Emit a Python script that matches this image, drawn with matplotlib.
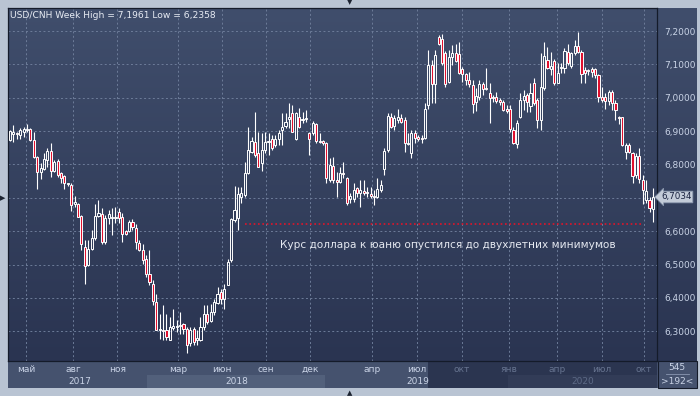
import numpy as np
import matplotlib
matplotlib.use("Agg")
import matplotlib.pyplot as plt
from matplotlib.colors import LinearSegmentedColormap
from matplotlib.patches import Rectangle

# weekly USD/CNH candles (open, high, low, close), oldest first
opens = [6.873, 6.890, 6.893, 6.888, 6.898, 6.903, 6.905, 6.873, 6.823, 6.778,
         6.785, 6.813, 6.840, 6.781, 6.810, 6.773, 6.765, 6.740, 6.738, 6.681,
         6.681, 6.645, 6.553, 6.498, 6.548, 6.581, 6.646, 6.650, 6.568, 6.638,
         6.638, 6.640, 6.658, 6.643, 6.600, 6.601, 6.627, 6.610, 6.565, 6.543,
         6.518, 6.471, 6.443, 6.388, 6.303, 6.305, 6.303, 6.275, 6.311, 6.313,
         6.315, 6.323, 6.308, 6.265, 6.308, 6.275, 6.275, 6.313, 6.353, 6.331,
         6.357, 6.385, 6.418, 6.398, 6.440, 6.513, 6.633, 6.640, 6.703, 6.708,
         6.775, 6.838, 6.868, 6.833, 6.805, 6.843, 6.866, 6.875, 6.858, 6.875,
         6.903, 6.916, 6.935, 6.953, 6.875, 6.941, 6.933, 6.935, 6.895, 6.893,
         6.920, 6.871, 6.870, 6.865, 6.753, 6.795, 6.753, 6.748, 6.773, 6.760,
         6.695, 6.695, 6.728, 6.713, 6.720, 6.715, 6.710, 6.705, 6.703, 6.723,
         6.785, 6.843, 6.943, 6.915, 6.933, 6.938, 6.933, 6.860, 6.833, 6.895,
         6.883, 6.878, 6.878, 6.978, 7.098, 7.041, 7.183, 7.175, 7.133, 7.048,
         7.121, 7.135, 7.131, 7.085, 7.071, 7.053, 7.038, 6.988, 7.001, 7.041,
         7.028, 7.013, 7.003, 7.001, 6.993, 6.988, 6.965, 6.965, 6.903, 6.861,
         6.943, 6.993, 7.008, 6.975, 7.045, 6.993, 6.933, 7.028, 7.113, 7.085,
         7.111, 7.043, 7.088, 7.088, 7.138, 7.096, 7.133, 7.155, 7.138, 7.083,
         7.083, 7.085, 7.085, 7.068, 7.003, 7.001, 6.991, 7.018, 6.983, 6.943,
         6.941, 6.838, 6.858, 6.833, 6.768, 6.825, 6.753, 6.693, 6.693, 6.665]
highs = [6.903, 6.918, 6.898, 6.908, 6.913, 6.921, 6.908, 6.898, 6.826, 6.803,
         6.833, 6.848, 6.865, 6.813, 6.815, 6.778, 6.768, 6.745, 6.743, 6.705,
         6.685, 6.648, 6.573, 6.573, 6.603, 6.681, 6.693, 6.668, 6.648, 6.663,
         6.668, 6.671, 6.668, 6.653, 6.603, 6.633, 6.635, 6.621, 6.575, 6.563,
         6.528, 6.545, 6.453, 6.413, 6.353, 6.378, 6.353, 6.343, 6.368, 6.333,
         6.358, 6.325, 6.313, 6.313, 6.313, 6.303, 6.343, 6.378, 6.378, 6.381,
         6.398, 6.433, 6.428, 6.443, 6.518, 6.638, 6.735, 6.733, 6.733, 6.808,
         6.913, 6.883, 6.958, 6.898, 6.893, 6.898, 6.893, 6.888, 6.888, 6.903,
         6.953, 6.953, 6.983, 6.978, 6.958, 6.968, 6.958, 6.963, 6.898, 6.930,
         6.925, 6.893, 6.873, 6.868, 6.818, 6.823, 6.778, 6.793, 6.808, 6.763,
         6.713, 6.743, 6.733, 6.753, 6.753, 6.733, 6.733, 6.723, 6.758, 6.753,
         6.848, 6.953, 6.953, 6.948, 6.965, 6.951, 6.943, 6.893, 6.903, 6.903,
         6.888, 6.888, 6.983, 7.143, 7.113, 7.143, 7.188, 7.190, 7.141, 7.143,
         7.158, 7.161, 7.168, 7.093, 7.073, 7.078, 7.053, 7.028, 7.053, 7.048,
         7.088, 7.043, 7.008, 7.018, 6.998, 6.993, 6.978, 6.978, 6.913, 6.933,
         7.013, 7.023, 7.013, 7.043, 7.058, 6.998, 7.133, 7.168, 7.153, 7.138,
         7.115, 7.103, 7.103, 7.148, 7.161, 7.138, 7.173, 7.196, 7.143, 7.093,
         7.085, 7.093, 7.088, 7.071, 7.033, 7.015, 7.023, 7.023, 6.993, 6.945,
         6.943, 6.865, 6.863, 6.838, 6.833, 6.848, 6.768, 6.753, 6.703, 6.728]
lows = [6.870, 6.868, 6.875, 6.875, 6.881, 6.898, 6.871, 6.818, 6.725, 6.755,
        6.783, 6.793, 6.761, 6.776, 6.763, 6.743, 6.725, 6.735, 6.661, 6.673,
        6.643, 6.543, 6.443, 6.495, 6.543, 6.573, 6.643, 6.563, 6.563, 6.621,
        6.588, 6.623, 6.625, 6.568, 6.588, 6.598, 6.603, 6.548, 6.540, 6.503,
        6.463, 6.438, 6.378, 6.303, 6.278, 6.273, 6.275, 6.273, 6.303, 6.298,
        6.293, 6.293, 6.236, 6.255, 6.258, 6.258, 6.271, 6.303, 6.323, 6.328,
        6.348, 6.381, 6.383, 6.368, 6.438, 6.508, 6.628, 6.603, 6.683, 6.703,
        6.771, 6.833, 6.823, 6.793, 6.781, 6.833, 6.828, 6.843, 6.853, 6.858,
        6.858, 6.908, 6.908, 6.898, 6.873, 6.908, 6.923, 6.928, 6.828, 6.888,
        6.863, 6.863, 6.858, 6.743, 6.748, 6.743, 6.703, 6.743, 6.758, 6.678,
        6.683, 6.688, 6.703, 6.673, 6.708, 6.703, 6.698, 6.678, 6.698, 6.718,
        6.768, 6.838, 6.908, 6.903, 6.923, 6.923, 6.838, 6.858, 6.818, 6.863,
        6.871, 6.863, 6.875, 6.965, 6.985, 6.985, 7.158, 7.098, 7.033, 7.043,
        7.098, 7.108, 7.071, 7.048, 7.038, 7.033, 6.955, 6.961, 6.993, 7.008,
        7.023, 6.923, 6.988, 6.983, 6.978, 6.961, 6.953, 6.898, 6.861, 6.848,
        6.938, 6.963, 6.958, 6.958, 6.978, 6.908, 6.903, 7.023, 7.085, 7.068,
        7.038, 7.043, 7.075, 7.073, 7.098, 7.088, 7.128, 7.133, 7.043, 7.043,
        7.068, 7.063, 7.058, 6.988, 6.988, 6.965, 6.978, 6.963, 6.933, 6.921,
        6.855, 6.815, 6.833, 6.743, 6.758, 6.743, 6.681, 6.683, 6.658, 6.628]
closes = [6.901, 6.896, 6.891, 6.903, 6.905, 6.905, 6.873, 6.823, 6.778, 6.788,
          6.815, 6.841, 6.781, 6.808, 6.768, 6.758, 6.743, 6.743, 6.678, 6.688,
          6.643, 6.563, 6.495, 6.548, 6.581, 6.646, 6.653, 6.568, 6.638, 6.650,
          6.643, 6.643, 6.638, 6.593, 6.593, 6.628, 6.611, 6.568, 6.543, 6.515,
          6.473, 6.448, 6.391, 6.305, 6.308, 6.301, 6.283, 6.313, 6.315, 6.317,
          6.318, 6.308, 6.258, 6.303, 6.268, 6.281, 6.313, 6.353, 6.328, 6.357,
          6.388, 6.411, 6.398, 6.426, 6.507, 6.636, 6.663, 6.710, 6.713, 6.775,
          6.843, 6.871, 6.828, 6.793, 6.843, 6.868, 6.870, 6.848, 6.875, 6.893,
          6.911, 6.928, 6.943, 6.898, 6.955, 6.913, 6.935, 6.938, 6.875, 6.925,
          6.871, 6.867, 6.865, 6.758, 6.798, 6.753, 6.748, 6.775, 6.770, 6.683,
          6.705, 6.723, 6.713, 6.723, 6.715, 6.713, 6.706, 6.703, 6.725, 6.738,
          6.841, 6.945, 6.913, 6.938, 6.941, 6.928, 6.863, 6.865, 6.895, 6.878,
          6.877, 6.877, 6.965, 7.098, 7.041, 7.128, 7.161, 7.103, 7.041, 7.121,
          7.135, 7.111, 7.073, 7.071, 7.053, 7.041, 6.981, 7.005, 7.041, 7.025,
          7.025, 6.998, 6.998, 6.991, 6.988, 6.963, 6.961, 6.905, 6.865, 6.925,
          6.993, 7.005, 6.988, 7.015, 6.983, 6.933, 7.033, 7.125, 7.088, 7.095,
          7.045, 7.075, 7.093, 7.141, 7.103, 7.133, 7.155, 7.138, 7.071, 7.073,
          7.080, 7.078, 7.068, 7.001, 6.993, 6.991, 7.018, 6.983, 6.963, 6.938,
          6.858, 6.858, 6.838, 6.765, 6.825, 6.755, 6.723, 6.721, 6.668, 6.703]

month_labels = ["май", "авг", "ноя", "мар", "июн", "сен", "дек",
                "апр", "июл", "окт", "янв", "апр", "июл", "окт"]
month_pos = [4.7, 18.5, 31.5, 49.4, 62.3, 75.2, 88.2,
             106.4, 119.6, 132.9, 146.7, 160.8, 174.0, 186.4]
y_ticks = [6.3, 6.4, 6.5, 6.6, 6.7, 6.8, 6.9, 7.0, 7.1, 7.2]
last_price = 6.7034
min_level = 6.6205
title = "USD/CNH Week High = 7,1961 Low = 6,2358"
note = "Курс доллара к юаню опустился до двухлетних минимумов"

W, H = 700, 396


def fx(x):
    return x / W


def fy(y):
    return 1 - y / H


o = np.array(opens)
h = np.array(highs)
l = np.array(lows)
c = np.array(closes)
x = np.arange(len(o))

fig = plt.figure(figsize=(7, 3.96), dpi=100)
fig.patch.set_facecolor("#b9c4d3")

grad = LinearSegmentedColormap.from_list("bg", ["#2a3451", "#404e6c"])
gimg = np.linspace(0, 1, 256)[:, None]

# right price panel
side = fig.add_axes([fx(657), fy(361), fx(40), (361 - 8) / H])
side.imshow(gimg, aspect="auto", cmap=grad, origin="lower", extent=[0, 1, 0, 1])
side.set_axis_off()
side.set_zorder(-1)

ax = fig.add_axes([fx(8), fy(361), fx(649), (361 - 8) / H])
ax.imshow(gimg, aspect="auto", cmap=grad, origin="lower",
          extent=[0, 1, 0, 1], transform=ax.transAxes, zorder=0)

up = c >= o
lo_body = np.minimum(o, c)
hi_body = np.maximum(o, c)
ax.vlines(x, hi_body, h, color="white", lw=0.8, zorder=2)
ax.vlines(x, l, lo_body, color="white", lw=0.8, zorder=2)
hgt = np.maximum(hi_body - lo_body, 0.003)
ax.bar(x[up], hgt[up], bottom=lo_body[up], width=0.62, facecolor="none",
       edgecolor="white", linewidth=0.7, zorder=3)
ax.bar(x[~up], hgt[~up], bottom=lo_body[~up], width=0.62, facecolor="#e0102e",
       edgecolor="white", linewidth=0.7, zorder=3)

ax.hlines(min_level, 69.1, 186.1, colors="#e0142a", linestyles=(0, (1, 1.6)),
          lw=1.2, zorder=2)
ax.text(79.4, 6.5585, note, color="#e4e8f0", fontsize=7.6, va="center",
        ha="left", zorder=4)

ax.set_xlim(-0.59, 190.2)
ax.set_ylim(6.2108, 7.269)
ax.set_xticks(month_pos)
ax.set_xticklabels(month_labels)
ax.yaxis.tick_right()
ax.set_yticks(y_ticks)
# the 6,7000 label sits under the current-price tag
ax.set_yticklabels(["" if abs(v - last_price) < 0.02 else f"{v:.4f}".replace(".", ",")
                    for v in y_ticks])
ax.tick_params(axis="x", length=0, pad=3, labelsize=6.5, colors="#c9d3e6")
ax.tick_params(axis="y", length=0, pad=5, labelsize=6.5, colors="#c9d3e6")
for lab, p in zip(ax.get_xticklabels(), month_pos):
    if p > 125:
        lab.set_color("#66738f")
ax.grid(True, color="#6d7c99", linestyle=(0, (2, 2.5)), lw=0.7)
ax.set_axisbelow(True)
for s in ax.spines.values():
    s.set_color("#141b2a")
    s.set_linewidth(0.9)

# time axis strip
fig.add_artist(Rectangle((fx(8), fy(388)), fx(689), 27 / H, transform=fig.transFigure,
                         facecolor="#45526e", edgecolor="none", zorder=-3))
fig.add_artist(Rectangle((fx(147), fy(388)), fx(178), 13 / H, transform=fig.transFigure,
                         facecolor="#52607b", edgecolor="none", zorder=-2))
fig.add_artist(Rectangle((fx(428), fy(388)), fx(229), 27 / H, transform=fig.transFigure,
                         facecolor="#2b3550", edgecolor="none", zorder=-2))
fig.add_artist(Rectangle((fx(508), fy(388)), fx(149), 13 / H, transform=fig.transFigure,
                         facecolor="#323c57", edgecolor="none", zorder=-1))
fig.text(fx(80), fy(381), "2017", color="#c9d3e6", fontsize=6.5, ha="center", va="center")
fig.text(fx(237), fy(381), "2018", color="#c9d3e6", fontsize=6.5, ha="center", va="center")
fig.text(fx(418), fy(381), "2019", color="#c9d3e6", fontsize=6.5, ha="center", va="center")
fig.text(fx(583), fy(381), "2020", color="#5d6a86", fontsize=6.5, ha="center", va="center")

# bottom-right counter box
fig.add_artist(Rectangle((fx(658), fy(388)), fx(39), 27 / H, transform=fig.transFigure,
                         facecolor="#45526e", edgecolor="#141b2a", lw=0.8, zorder=2))
fig.text(fx(677), fy(368), "545", color="#c9d3e6", fontsize=6.5, ha="center", va="center")
fig.add_artist(plt.Line2D([fx(666), fx(689)], [fy(374), fy(374)], color="#8896b0", lw=0.6))
fig.text(fx(677), fy(381), ">192<", color="#c9d3e6", fontsize=6.5, ha="center", va="center")

fig.text(fx(10), fy(15), title, color="#e8ecf4", fontsize=6.6, ha="left", va="center")

# current price tag
fig.text(fx(661), fy(197), f"{last_price:.4f}".replace(".", ","), color="#1a2340",
         fontsize=6.3, ha="left", va="center", zorder=6,
         bbox=dict(boxstyle="larrow,pad=0.15", fc="#c3cbd8", ec="#8a97ad", lw=0.6))

# scroll markers on the frame
fig.text(fx(350), fy(2), "▼", color="#1b2230", fontsize=5, ha="center", va="center")
fig.text(fx(350), fy(393), "▲", color="#1b2230", fontsize=5, ha="center", va="center")
fig.text(fx(3), fy(198), "▶", color="#1b2230", fontsize=5, ha="center", va="center")

fig.savefig("out.png", dpi=100, facecolor=fig.get_facecolor())
